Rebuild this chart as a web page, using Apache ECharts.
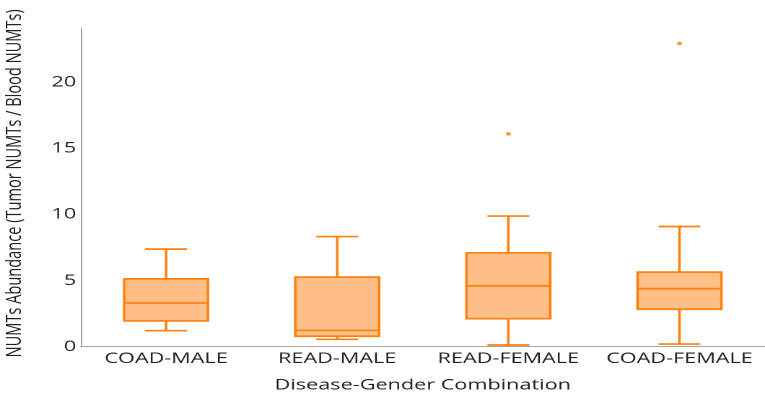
<!DOCTYPE html>
<html>
<head>
<meta charset="utf-8">
<script src="https://cdn.jsdelivr.net/npm/echarts@6/dist/echarts.min.js"></script>
<style>
  html, body { margin: 0; padding: 0; background: #fff; overflow: hidden; }
  /* chart is laid out at 530px and widened to fill the 765px page */
  #chart { width: 530px; height: 396px; transform: scaleX(1.443396); transform-origin: 0 0; }
</style>
</head>
<body>
<div id="chart"></div>
<script>
// Disease-gender groups and their box statistics
const categories = ['COAD-MALE', 'READ-MALE', 'READ-FEMALE', 'COAD-FEMALE'];
const whiskerLow = [1.21, 0.56, 0.13, 0.20];
const q1 = [1.95, 0.79, 2.12, 2.83];
const median = [3.31, 1.24, 4.60, 4.39];
const q3 = [5.13, 5.26, 7.10, 5.64];
const whiskerHigh = [7.38, 8.33, 9.88, 9.09];

// Points beyond the whiskers
const outlierGroup = [2, 3];
const outlierValue = [16.09, 22.93];

// Value-axis tick labels
const yTickValues = [0, 5, 10, 15, 20];

const LINE = '#FF7F0E';
const FILL = '#FFBF86';
const TEXT = '#222222';
const FONT = '"Open Sans", "Noto Sans", sans-serif';

const boxData = categories.map((c, i) => [i, whiskerLow[i], q1[i], median[i], q3[i], whiskerHigh[i]]);
const outlierData = outlierGroup.map((g, i) => [g, outlierValue[i]]);

function renderBox(params, api) {
  const idx = api.value(0);
  const x = api.coord([idx, 0])[0];
  const y = k => api.coord([idx, api.value(k)])[1];
  const yLow = y(1), yQ1 = y(2), yMed = y(3), yQ3 = y(4), yHigh = y(5);
  const band = api.size([1, 0])[0];
  const half = band * 0.49 / 2;
  const cap = half / 2;
  const lineStyle = { stroke: LINE, lineWidth: 1.7, fill: null };
  return {
    type: 'group',
    children: [
      { type: 'line', shape: { x1: x, y1: yQ3, x2: x, y2: yHigh }, style: lineStyle },
      { type: 'line', shape: { x1: x, y1: yQ1, x2: x, y2: yLow }, style: lineStyle },
      { type: 'line', shape: { x1: x - cap, y1: yHigh, x2: x + cap, y2: yHigh }, style: lineStyle },
      { type: 'line', shape: { x1: x - cap, y1: yLow, x2: x + cap, y2: yLow }, style: lineStyle },
      { type: 'rect', shape: { x: x - half, y: yQ3, width: half * 2, height: yQ1 - yQ3 },
        style: { fill: FILL, stroke: LINE, lineWidth: 1.7 } },
      { type: 'line', shape: { x1: x - half, y1: yMed, x2: x + half, y2: yMed }, style: lineStyle }
    ]
  };
}

const chart = echarts.init(document.getElementById('chart'), null, { devicePixelRatio: 2 });
chart.setOption({
  animation: false,
  backgroundColor: '#ffffff',
  grid: { left: 55.8, right: 0, top: 28, bottom: 49.3, outerBoundsMode: 'none', containLabel: false },
  xAxis: {
    type: 'category',
    data: categories,
    name: 'Disease-Gender Combination',
    nameLocation: 'middle',
    nameGap: 31,
    nameTextStyle: { fontFamily: FONT, fontSize: 15, color: TEXT },
    axisLine: { lineStyle: { color: '#a6a6a6', width: 1 } },
    axisTick: { show: false },
    axisLabel: { fontFamily: FONT, fontSize: 15, color: TEXT, margin: 4.5, interval: 0 },
    splitLine: { show: false }
  },
  yAxis: {
    type: 'value',
    min: 0,
    max: 24.1,
    interval: 5,
    name: 'NUMTs Abundance (Tumor NUMTs / Blood NUMTs)',
    nameLocation: 'middle',
    nameGap: 38,
    nameTextStyle: { fontFamily: FONT, fontSize: 14.6, color: TEXT, padding: [0, 0, 0, 8] },
    axisLine: { show: true, lineStyle: { color: '#a6a6a6', width: 1 } },
    axisTick: { show: false },
    axisLabel: { fontFamily: FONT, fontSize: 15, color: TEXT, margin: 3, padding: [5, 0, 0, 0], customValues: yTickValues },
    splitLine: { show: false }
  },
  series: [
    {
      type: 'custom',
      renderItem: renderBox,
      encode: { x: 0, y: [1, 2, 3, 4, 5] },
      data: boxData,
      z: 2
    },
    {
      type: 'scatter',
      data: outlierData,
      symbol: 'circle',
      symbolSize: 3.5,
      itemStyle: { color: LINE },
      z: 3
    }
  ]
});
</script>
</body>
</html>
